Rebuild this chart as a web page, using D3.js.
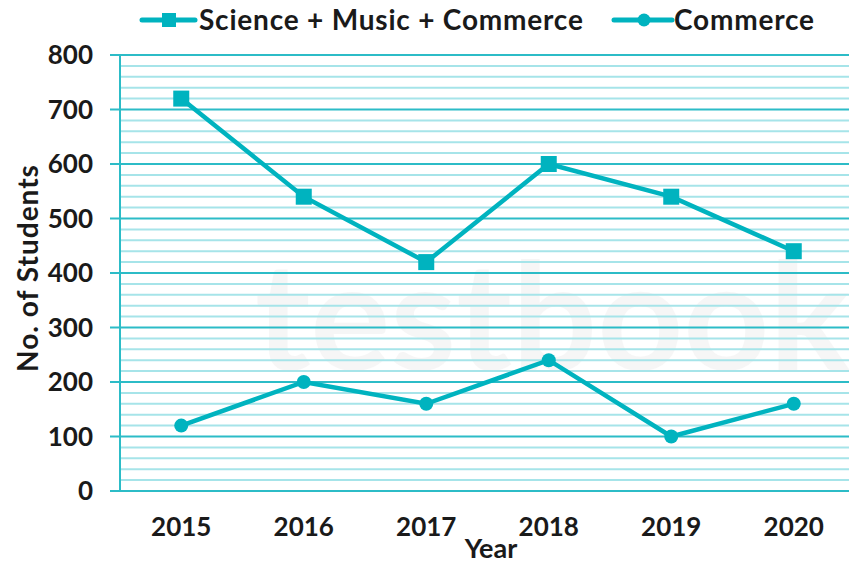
<!DOCTYPE html>
<html>
<head>
<meta charset="utf-8">
<script src="https://cdn.jsdelivr.net/npm/d3@7"></script>
<style>
  body { margin: 0; background: #fff; }
  text { font-family: Lato, "Open Sans", sans-serif; font-weight: bold; fill: #1a1a1a; }
</style>
</head>
<body>
<script>
// chart data
const years = ["2015", "2016", "2017", "2018", "2019", "2020"];
const smcValues = [720, 540, 420, 600, 540, 440];
const commerceValues = [120, 200, 160, 240, 100, 160];
const yTicks = [0, 100, 200, 300, 400, 500, 600, 700, 800];
const seriesNames = ["Science + Music + Commerce", "Commerce"];

const teal = "#00b3bf";
const W = 849, H = 566;
let margin = {top: 55, left: 120, bottom: 75};

const svg = d3.select("body").append("svg")
    .attr("width", W)
    .attr("height", H);

const xScale = d3.scaleBand()
    .domain(years)
    .range([margin.left, 855]);
const yScale = d3.scaleLinear()
    .domain([0, 800])
    .range([H - margin.bottom, margin.top]);

// faint watermark in the background
svg.append("text")
    .attr("x", 255)
    .attr("y", 370)
    .style("font-size", "150px")
    .style("fill", "#000")
    .style("opacity", 0.03)
    .text("testbook");

// minor grid lines every 20
const minor = d3.range(0, 801, 20).filter(v => v % 100 !== 0);
svg.append("g")
    .selectAll("line")
    .data(minor)
    .join("line")
    .attr("x1", margin.left)
    .attr("x2", W)
    .attr("y1", d => yScale(d))
    .attr("y2", d => yScale(d))
    .attr("stroke", "#a6e4e9")
    .attr("stroke-width", 2);

// major grid lines (with outward tick)
svg.append("g")
    .selectAll("line")
    .data(yTicks)
    .join("line")
    .attr("x1", margin.left - 10)
    .attr("x2", W)
    .attr("y1", d => yScale(d))
    .attr("y2", d => yScale(d))
    .attr("stroke", "#2cbcc7")
    .attr("stroke-width", 2);

// y axis line
svg.append("line")
    .attr("x1", margin.left)
    .attr("x2", margin.left)
    .attr("y1", yScale(800))
    .attr("y2", yScale(0))
    .attr("stroke", "#2cbcc7")
    .attr("stroke-width", 2);

// y tick labels
svg.append("g")
    .selectAll("text")
    .data(yTicks)
    .join("text")
    .attr("x", 93)
    .attr("y", d => yScale(d))
    .attr("dy", "0.35em")
    .attr("text-anchor", "end")
    .style("font-size", "26px")
    .text(d => d);

// x tick labels
svg.append("g")
    .selectAll("text")
    .data(years)
    .join("text")
    .attr("x", d => xScale(d) + xScale.bandwidth() / 2)
    .attr("y", 527)
    .attr("dy", "0.35em")
    .attr("text-anchor", "middle")
    .style("font-size", "26px")
    .text(d => d);

// axis titles
svg.append("text")
    .attr("x", 491)
    .attr("y", 549)
    .attr("dy", "0.35em")
    .attr("text-anchor", "middle")
    .style("font-size", "27px")
    .text("Year");

svg.append("text")
    .attr("transform", "translate(28,268) rotate(-90)")
    .attr("dy", "0.35em")
    .attr("text-anchor", "middle")
    .style("font-size", "28px")
    .style("letter-spacing", "1px")
    .text("No. of Students");

const cx = d => xScale(d) + xScale.bandwidth() / 2;
const line = d3.line()
    .x((d, i) => cx(years[i]))
    .y(d => yScale(d));

// series lines
svg.append("path")
    .datum(smcValues)
    .attr("d", line)
    .attr("fill", "none")
    .attr("stroke", teal)
    .attr("stroke-width", 4.5);

svg.append("path")
    .datum(commerceValues)
    .attr("d", line)
    .attr("fill", "none")
    .attr("stroke", teal)
    .attr("stroke-width", 4.5);

// markers
svg.append("g")
    .selectAll("rect")
    .data(smcValues)
    .join("rect")
    .attr("x", (d, i) => cx(years[i]) - 8)
    .attr("y", d => yScale(d) - 8)
    .attr("width", 16)
    .attr("height", 16)
    .attr("fill", teal);

svg.append("g")
    .selectAll("circle")
    .data(commerceValues)
    .join("circle")
    .attr("cx", (d, i) => cx(years[i]))
    .attr("cy", d => yScale(d))
    .attr("r", 7)
    .attr("fill", teal);

// legend
const legend = svg.append("g");
legend.append("line")
    .attr("x1", 142).attr("x2", 195)
    .attr("y1", 20).attr("y2", 20)
    .attr("stroke", teal).attr("stroke-width", 5)
    .attr("stroke-linecap", "round");
legend.append("rect")
    .attr("x", 162).attr("y", 13)
    .attr("width", 14).attr("height", 14)
    .attr("fill", teal);
legend.append("text")
    .attr("x", 199).attr("y", 20)
    .attr("dy", "0.35em")
    .style("font-size", "28px")
    .style("letter-spacing", "0.8px")
    .text(seriesNames[0]);

legend.append("line")
    .attr("x1", 614).attr("x2", 672)
    .attr("y1", 20).attr("y2", 20)
    .attr("stroke", teal).attr("stroke-width", 5)
    .attr("stroke-linecap", "round");
legend.append("circle")
    .attr("cx", 644).attr("cy", 20)
    .attr("r", 6.5)
    .attr("fill", teal);
legend.append("text")
    .attr("x", 674).attr("y", 20)
    .attr("dy", "0.35em")
    .style("font-size", "28px")
    .style("letter-spacing", "0.8px")
    .text(seriesNames[1]);
</script>
</body>
</html>
